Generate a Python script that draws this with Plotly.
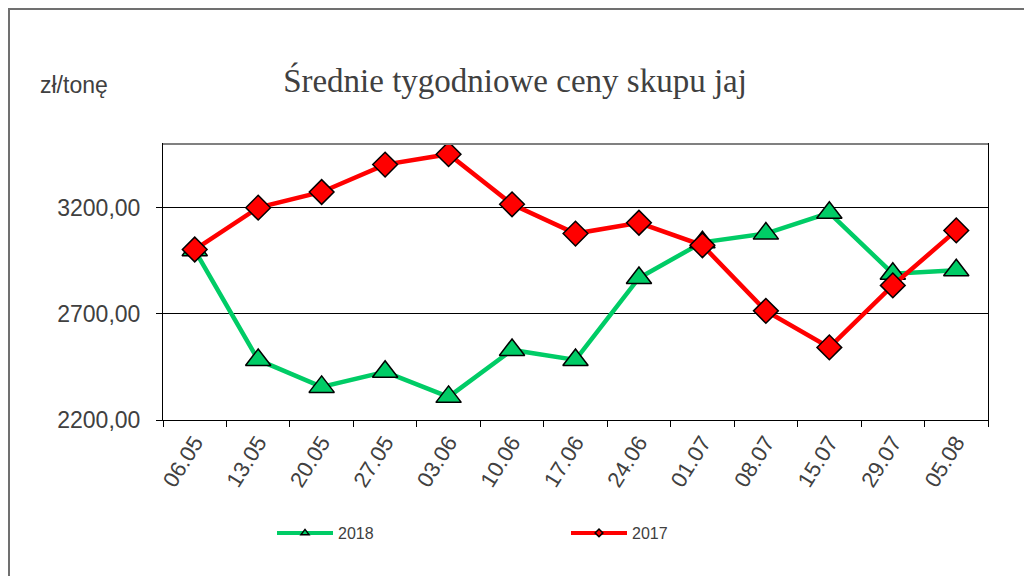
import plotly.graph_objects as go

categories = ["06.05", "13.05", "20.05", "27.05", "03.06", "10.06", "17.06",
              "24.06", "01.07", "08.07", "15.07", "29.07", "05.08"]
values_2018 = [3000, 2483, 2356, 2427, 2309, 2530, 2483, 2869, 3037, 3078, 3176, 2889, 2905]
values_2017 = [3003, 3200, 3274, 3403, 3452, 3216, 3078, 3129, 3023, 2714, 2542, 2834, 3093]
y_ticks = [2200, 2700, 3200]

GREEN = "#00CC66"
RED = "#FF0000"
TXT = "#404040"

fig = go.Figure()

fig.add_trace(go.Scatter(
    x=categories, y=values_2018, mode="lines+markers", name="2018", showlegend=False,
    line=dict(color=GREEN, width=4.5),
    marker=dict(symbol="triangle-up", size=22, color=GREEN, line=dict(color="black", width=1.5)),
))
fig.add_trace(go.Scatter(
    x=categories, y=values_2017, mode="lines+markers", name="2017", showlegend=False,
    line=dict(color=RED, width=4.5),
    marker=dict(symbol="diamond", size=19, color=RED, line=dict(color="black", width=1.5)),
))
fig.add_trace(go.Scatter(
    x=[None], y=[None], mode="lines+markers", name="2018",
    line=dict(color=GREEN, width=4),
    marker=dict(symbol="triangle-up", size=7, color=GREEN, line=dict(color="black", width=1.5)),
))
fig.add_trace(go.Scatter(
    x=[None], y=[None], mode="lines+markers", name="2017",
    line=dict(color=RED, width=4),
    marker=dict(symbol="diamond", size=6, color=RED, line=dict(color="black", width=1.5)),
))

# page body has an 8px margin: figure origin sits at (8, 8) in the window
OFF = 8
W, H = 1024, 568
L, R, T, B = 163 - OFF, 44, 144 - OFF, 156
pw, ph = W - L - R, H - T - B

def px_x(px):
    return (px - OFF - L) / pw

def px_y(py):
    return 1 - (py - OFF - T) / ph

ITEMW = 56

fig.update_layout(
    width=W, height=H,
    margin=dict(l=L, r=R, t=T, b=B),
    paper_bgcolor="white", plot_bgcolor="white",
    separators=", ",
    font=dict(family="Arial, Liberation Sans", color=TXT),
    title=dict(text="Średnie tygodniowe ceny skupu jaj",
               font=dict(family="Liberation Serif", size=33, color=TXT),
               x=(515 - OFF) / W, xanchor="center", xref="container",
               y=1 - (80 - OFF) / H, yanchor="middle", yref="container"),
    xaxis=dict(type="category", range=[-0.5, len(categories) - 0.5],
               tickson="boundaries", ticks="outside", ticklen=6,
               tickcolor="black", tickangle=-58, showline=True, linecolor="black",
               linewidth=1, mirror=True, showgrid=False, ticklabelstandoff=0,
               tickfont=dict(family="Arial, Liberation Sans", size=22, color=TXT)),
    yaxis=dict(range=[2200, 3500], tickvals=y_ticks, tickformat=".2f",
               ticks="outside", ticklen=6, tickcolor="black",
               showline=True, linecolor="black", linewidth=1, mirror=True,
               showgrid=True, gridcolor="black", gridwidth=1, zeroline=False,
               ticklabelstandoff=11,
               tickfont=dict(family="Arial, Liberation Sans", size=23, color=TXT)),
    legend=dict(orientation="h", xref="container", yref="container",
                x=(272 - OFF) / W, xanchor="left", y=1 - (533 - OFF) / H, yanchor="middle",
                entrywidth=293 - ITEMW - 14, entrywidthmode="pixels", itemwidth=ITEMW,
                font=dict(family="Arial, Liberation Sans", size=16, color=TXT),
                bgcolor="rgba(0,0,0,0)"),
    annotations=[dict(text="zł/tonę", xref="paper", yref="paper",
                      x=px_x(38), xanchor="left",
                      y=px_y(85), yanchor="middle", showarrow=False,
                      font=dict(family="Arial, Liberation Sans", size=23, color=TXT))],
    shapes=[
        dict(type="rect", xref="paper", yref="paper",
             x0=px_x(9), x1=px_x(1060),
             y0=px_y(600), y1=px_y(9),
             line=dict(color="#707070", width=2), fillcolor="rgba(0,0,0,0)", layer="below"),
        dict(type="line", xref="paper", yref="paper", x0=0, x1=1, y0=1, y1=1,
             line=dict(color="#808080", width=2)),
    ],
)

fig.write_html("out.html")
